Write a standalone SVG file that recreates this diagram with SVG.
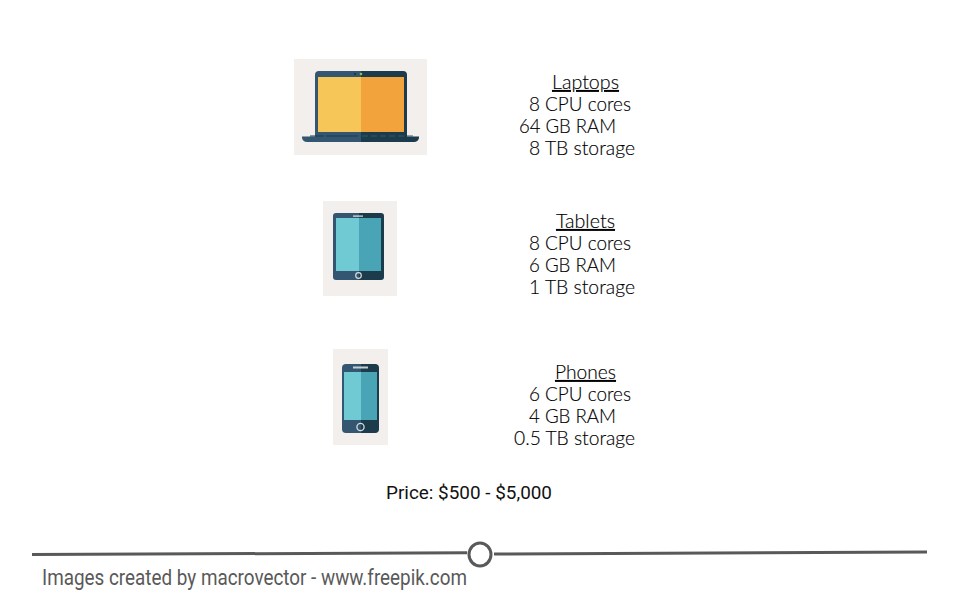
<svg xmlns="http://www.w3.org/2000/svg" width="960" height="600" viewBox="0 0 960 600">
<defs>
<style>
.t{font-family:Lato,"Noto Sans",sans-serif;font-weight:300;font-size:19px;fill:#000;stroke:#000;stroke-width:0.15px}
.p{font-family:Roboto,"Noto Sans",sans-serif;font-weight:400;font-size:18px;fill:#111}
.h{text-decoration:underline;text-underline-offset:3px}
.foot{font-family:Roboto,"Liberation Sans",sans-serif;font-size:22px;fill:#595959}
.bg{fill:#f3efec}
.lineS{fill:none;stroke:#595959;stroke-width:3}
.dl{fill:#34566f}.dr{fill:#1a3a4c}
.yl{fill:#f6c659}.yr{fill:#f2a33a}
.cl{fill:#6fcad3}.cr{fill:#48a5b5}
</style>
<filter id="soft" x="-5%" y="-5%" width="110%" height="110%"><feGaussianBlur stdDeviation="0.5"/></filter>
</defs>
<rect width="960" height="600" fill="#fff"/>

<g id="laptop-image">
<rect class="bg" x="294" y="59" width="133" height="96"/>
<g filter="url(#soft)">
<path class="dl" d="M361 71H319Q315 71 315 75V137H361Z"/>
<path class="dr" d="M361 71H403Q407 71 407 75V137H361Z"/>
<rect class="yl" x="318" y="77" width="43" height="55"/>
<rect class="yr" x="361" y="77" width="43" height="55"/>
<circle cx="355" cy="74" r="1" fill="#16303f"/>
<circle cx="361" cy="74" r="1.300" fill="#8fc04a"/>
<path class="dl" d="M302 136.500H361V142H307Q303 142 302 138Z"/>
<path class="dr" d="M361 136.500H419V138Q418 142 414 142H361Z"/>
<path d="M310 136H324M326 136H358" stroke="#1a3a4c" stroke-width="1" fill="none"/>
<path d="M362 136H416" stroke="#34566f" stroke-width="1" stroke-dasharray="6 3" fill="none"/>
</g>
</g>

<g id="laptop-text">
<text class="t h" x="552" y="89" textLength="67" lengthAdjust="spacingAndGlyphs">Laptops</text>
<text class="t" x="529" y="111" textLength="102" lengthAdjust="spacingAndGlyphs">8 CPU cores</text>
<text class="t" x="519" y="133" textLength="97" lengthAdjust="spacingAndGlyphs">64 GB RAM</text>
<text class="t" x="529" y="155" textLength="106" lengthAdjust="spacingAndGlyphs">8 TB storage</text>
</g>

<g id="tablet-image">
<rect class="bg" x="323" y="201" width="74" height="95"/>
<g filter="url(#soft)">
<path class="dl" d="M359 213H336Q333 213 333 216V277Q333 280 336 280H359Z"/>
<path class="dr" d="M359 213H381Q384 213 384 216V277Q384 280 381 280H359Z"/>
<rect class="cl" x="336" y="218" width="23" height="53"/>
<rect class="cr" x="359" y="218" width="22" height="53"/>
<rect x="353" y="215.500" width="10" height="1.200" fill="#dfe6e8"/>
<circle cx="358.500" cy="275.500" r="2.800" fill="none" stroke="#d5dde0" stroke-width="1.200"/>
</g>
</g>

<g id="tablet-text">
<text class="t h" x="556" y="228" textLength="59" lengthAdjust="spacingAndGlyphs">Tablets</text>
<text class="t" x="529" y="250" textLength="102" lengthAdjust="spacingAndGlyphs">8 CPU cores</text>
<text class="t" x="529" y="272" textLength="87" lengthAdjust="spacingAndGlyphs">6 GB RAM</text>
<text class="t" x="529" y="294" textLength="106" lengthAdjust="spacingAndGlyphs">1 TB storage</text>
</g>

<g id="phone-image">
<rect class="bg" x="333" y="349" width="55" height="96"/>
<g filter="url(#soft)">
<path class="dl" d="M361 364H346Q342 364 342 368V429Q342 433 346 433H361Z"/>
<path class="dr" d="M361 364H375Q379 364 379 368V429Q379 433 375 433H361Z"/>
<rect class="cl" x="344" y="372" width="17" height="48"/>
<rect class="cr" x="361" y="372" width="16" height="48"/>
<rect x="353" y="366.500" width="15" height="2" fill="#c4cfd4"/>
<circle cx="360.500" cy="427" r="3.600" fill="none" stroke="#d5dde0" stroke-width="1.300"/>
</g>
</g>

<g id="phone-text">
<text class="t h" x="555" y="379" textLength="61" lengthAdjust="spacingAndGlyphs">Phones</text>
<text class="t" x="529" y="401" textLength="102" lengthAdjust="spacingAndGlyphs">6 CPU cores</text>
<text class="t" x="529" y="423" textLength="87" lengthAdjust="spacingAndGlyphs">4 GB RAM</text>
<text class="t" x="514" y="445" textLength="121" lengthAdjust="spacingAndGlyphs">0.5 TB storage</text>
</g>

<g id="price">
<text class="p" x="386" y="499" textLength="166" lengthAdjust="spacingAndGlyphs">Price: $500 - $5,000</text>
</g>

<g id="connectors">
<path class="lineS" d="M32 554.500L467 552.800"/>
<path class="lineS" d="M494 554L927 552"/>
</g>

<g id="slider-handle">
<ellipse cx="480" cy="554.500" rx="11" ry="11.500" fill="#fff" stroke="#595959" stroke-width="3"/>
</g>

<g id="credit">
<text class="foot" x="42" y="585" textLength="425" lengthAdjust="spacingAndGlyphs">Images created by macrovector - www.freepik.com</text>
</g>
</svg>
